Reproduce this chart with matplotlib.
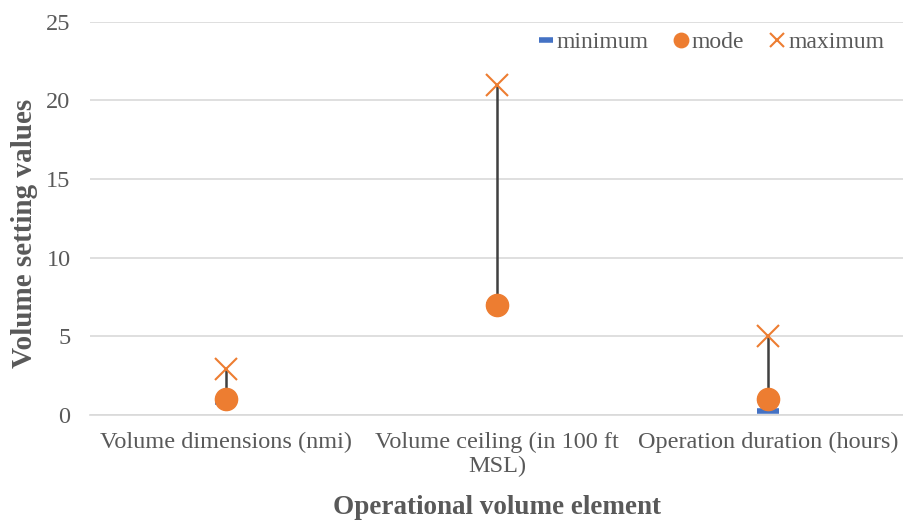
import numpy as np
import matplotlib.pyplot as plt

plt.rcParams["font.family"] = ["Liberation Serif", "DejaVu Serif"]

# Data
categories = ["Volume dimensions (nmi)", "Volume ceiling (in 100 ft\nMSL)",
              "Operation duration (hours)"]
minimum = [0.8, 7.0, 0.25]
mode = [1.0, 7.0, 1.0]
maximum = [2.9, 21.0, 5.0]

blue = "#4472C4"
orange = "#ED7D31"
grid_col = "#D9D9D9"
text_col = "#595959"

fig = plt.figure(figsize=(9.04, 5.2), dpi=100)
ax = fig.add_axes([0.0995, 0.202, 0.9005, 0.756])

x = np.arange(len(categories))

# high-low lines
ax.vlines(x, minimum, maximum, color="#404040", lw=1.8, zorder=2)

ax.plot(x, minimum, linestyle="none", marker="_", markersize=16,
        markeredgewidth=4, color=blue, label="minimum", zorder=3)
ax.plot(x, mode, linestyle="none", marker="o", markersize=16,
        color=orange, label="mode", zorder=4)
ax.plot(x, maximum, linestyle="none", marker="x", markersize=16,
        markeredgewidth=1.5, color=orange, label="maximum", zorder=5)

ax.set_xlim(-0.5, 2.5)
ax.set_ylim(0, 25)
ax.set_yticks(np.arange(0, 26, 5))
ax.set_xticks(x)
ax.set_xticklabels(categories)
ax.yaxis.grid(True, color=grid_col, lw=1.2)
ax.set_axisbelow(True)
for s in ["top", "right", "left"]:
    ax.spines[s].set_visible(False)
ax.spines["bottom"].set_color(grid_col)
ax.spines["bottom"].set_linewidth(1.2)
ax.tick_params(axis="y", length=0, labelsize=17.5, colors=text_col, pad=14)
ax.tick_params(axis="x", length=0, labelsize=17.5, colors=text_col, pad=12)

ax.set_ylabel("Volume setting values", fontsize=21, fontweight="bold",
              color=text_col)
ax.yaxis.set_label_coords(-0.064, 0.463)
ax.set_xlabel("Operational volume element", fontsize=19.5, fontweight="bold",
              color=text_col, labelpad=13)

leg = ax.legend(loc="upper right", bbox_to_anchor=(0.99, 1.005), ncol=3,
                frameon=False, fontsize=17, handlelength=0.6,
                handletextpad=0.15, columnspacing=1.1, markerscale=0.65,
                borderaxespad=0.1)
for t in leg.get_texts():
    t.set_color(text_col)

fig.savefig("out.png", dpi=100)
